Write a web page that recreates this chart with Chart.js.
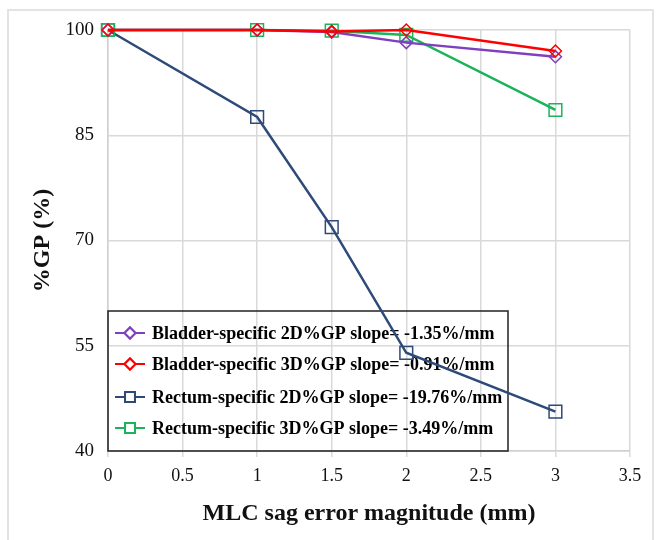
<!DOCTYPE html>
<html>
<head>
<meta charset="utf-8">
<script src="https://cdn.jsdelivr.net/npm/chart.js@4"></script>
<style>
  body { margin: 0; background: #fff; }
  #wrap { width: 660px; height: 540px; position: relative; }
</style>
</head>
<body>
<div id="wrap"><canvas id="grafico" width="660" height="540"></canvas></div>
<script>
// dados
const errosMLC = [0, 1, 1.5, 2, 3];
const bexiga2D = [100, 100, 99.7, 98.2, 96.2];
const bexiga3D = [100, 100, 99.8, 100, 97.0];
const reto2D = [100, 87.6, 71.9, 54.0, 45.6];
const reto3D = [100, 100, 99.9, 99.3, 88.6];
const rotulos = [
    'Bladder-specific 2D%GP slope= -1.35%/mm',
    'Bladder-specific 3D%GP slope= -0.91%/mm',
    'Rectum-specific 2D%GP slope= -19.76%/mm',
    'Rectum-specific 3D%GP slope= -3.49%/mm'
];
const yTicks = [40, 55, 70, 85, 100];

const serif = "'Liberation Serif', 'Times New Roman', serif";

function pontos(valores) {
    return errosMLC.map((x, i) => ({ x: x, y: valores[i] }));
}

function serie(idx, valores, cor, estilo, raio, ordem) {
    return {
        label: rotulos[idx],
        data: pontos(valores),
        borderColor: cor,
        backgroundColor: '#ffffff',
        borderWidth: 2.5,
        pointStyle: estilo,
        pointRadius: raio,
        pointBorderWidth: 1.5,
        pointBackgroundColor: 'rgba(255,255,255,0)',
        tension: 0,
        clip: false,
        order: ordem
    };
}

// moldura cinza em volta da figura
const moldura = {
    id: 'moldura',
    beforeDraw(chart) {
        const c = chart.ctx;
        c.save();
        c.strokeStyle = '#e3e3e3';
        c.lineWidth = 2;
        c.strokeRect(8, 10, 645, 540);
        c.restore();
    }
};

// legenda desenhada dentro da área do gráfico
const legendaInterna = {
    id: 'legendaInterna',
    beforeDatasetsDraw(chart) {
        const c = chart.ctx;
        const area = chart.chartArea;
        const x0 = area.left, x1 = 508, y0 = 311, y1 = area.bottom;
        c.save();
        c.strokeStyle = '#222';
        c.lineWidth = 1.5;
        c.strokeRect(x0, y0, x1 - x0, y1 - y0);
        c.font = 'bold 18px ' + serif;
        c.textBaseline = 'middle';
        c.fillStyle = '#000';
        const ys = [333, 364, 397, 428];
        chart.data.datasets.forEach((ds, i) => {
            const y = ys[i];
            c.strokeStyle = ds.borderColor;
            c.lineWidth = 2;
            c.beginPath();
            c.moveTo(115, y);
            c.lineTo(145, y);
            c.stroke();
            c.fillStyle = '#fff';
            Chart.helpers.drawPoint(c, {
                pointStyle: ds.pointStyle,
                radius: ds.pointStyle === 'rect' ? 7 : 5.5,
                rotation: 0,
                borderWidth: 1.5
            }, 130, y);
            c.fill();
            c.stroke();
            c.fillStyle = '#000';
            c.fillText(ds.label, 152, y + 1);
        });
        c.restore();
    }
};

new Chart(document.getElementById('grafico'), {
    type: 'line',
    data: {
        datasets: [
            serie(0, bexiga2D, '#7f3fbf', 'rectRot', 6, 1),
            serie(1, bexiga3D, '#ff0000', 'rectRot', 6, 0),
            serie(2, reto2D, '#2e4a78', 'rect', 9, 3),
            serie(3, reto3D, '#1db35a', 'rect', 9, 2)
        ]
    },
    options: {
        responsive: false,
        animation: false,
        layout: { padding: { left: 24, top: 30, right: 30, bottom: 8 } },
        plugins: {
            legend: { display: false },
            tooltip: { enabled: false }
        },
        scales: {
            x: {
                type: 'linear',
                min: 0,
                max: 3.5,
                ticks: {
                    stepSize: 0.5,
                    color: '#111',
                    font: { family: serif, size: 18 },
                    padding: 8,
                    callback: (v) => String(v)
                },
                grid: { color: '#d9d9d9', lineWidth: 1.5, tickLength: 6 },
                border: { color: '#d0d0d0', width: 1.5 },
                title: {
                    display: true,
                    text: 'MLC sag error magnitude (mm)',
                    color: '#111',
                    font: { family: serif, size: 24, weight: 'bold' },
                    padding: { top: 4 }
                },
                afterFit(scale) { scale.height = 81; }
            },
            y: {
                min: 40,
                max: 100,
                afterBuildTicks(scale) {
                    scale.ticks = yTicks.map(v => ({ value: v }));
                },
                ticks: {
                    color: '#111',
                    font: { family: serif, size: 19 },
                    padding: 14
                },
                grid: { color: '#d9d9d9', lineWidth: 1.5, drawTicks: false },
                border: { color: '#d0d0d0', width: 1.5 },
                title: {
                    display: true,
                    text: '%GP (%)',
                    color: '#111',
                    font: { family: serif, size: 24, weight: 'bold' },
                    padding: { bottom: 4 }
                },
                afterFit(scale) { scale.width = 84; }
            }
        }
    },
    plugins: [moldura, legendaInterna]
});
</script>
</body>
</html>
